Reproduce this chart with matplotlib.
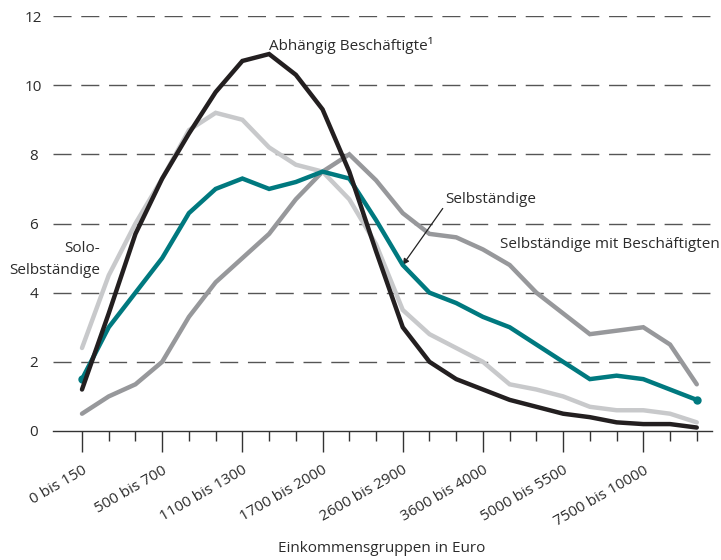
import numpy as np
import matplotlib
matplotlib.use('Agg')
import matplotlib.pyplot as plt

plt.rcParams['font.family'] = ['Open Sans', 'DejaVu Sans']

# income groups, only every third one is labelled
labels = ['0 bis 150', '', '', '500 bis 700', '', '', '1100 bis 1300', '', '',
          '1700 bis 2000', '', '', '2600 bis 2900', '', '', '3600 bis 4000', '', '',
          '5000 bis 5500', '', '', '7500 bis 10000', '', '']

abhaengig = [1.2, 3.4, 5.7, 7.3, 8.6, 9.8, 10.7, 10.9, 10.3, 9.3, 7.5, 5.2,
             3.0, 2.0, 1.5, 1.2, 0.9, 0.7, 0.5, 0.4, 0.25, 0.2, 0.2, 0.1]
solo = [2.4, 4.5, 6.0, 7.3, 8.7, 9.2, 9.0, 8.2, 7.7, 7.5, 6.7, 5.4,
        3.5, 2.8, 2.4, 2.0, 1.35, 1.2, 1.0, 0.7, 0.6, 0.6, 0.5, 0.25]
selbst = [1.5, 3.0, 4.0, 5.0, 6.3, 7.0, 7.3, 7.0, 7.2, 7.5, 7.3, 6.1,
          4.8, 4.0, 3.7, 3.3, 3.0, 2.5, 2.0, 1.5, 1.6, 1.5, 1.2, 0.9]
mit_besch = [0.5, 1.0, 1.35, 2.0, 3.3, 4.3, 5.0, 5.7, 6.7, 7.5, 8.0, 7.25,
             6.3, 5.7, 5.6, 5.25, 4.8, 4.0, 3.4, 2.8, 2.9, 3.0, 2.5, 1.35]

x = np.arange(len(labels))
txt = '#2b2b2b'
fs = 11

fig = plt.figure(figsize=(7.21, 5.60), dpi=100)
ax = fig.add_axes([53/721, 129/560, 659/721, 415/560])

for yy in range(2, 13, 2):
    ax.axhline(yy, color='#555555', lw=1, dashes=(13, 7), zorder=1)

lw = 3.2
ax.plot(x, mit_besch, color='#97989b', lw=lw, solid_capstyle='round', solid_joinstyle='miter', zorder=3)
ax.plot(x, solo, color='#c8c9cb', lw=lw, solid_capstyle='round', solid_joinstyle='miter', zorder=3)
ax.plot(x, selbst, color='#00797f', lw=lw, solid_capstyle='round', solid_joinstyle='miter', zorder=4)
ax.plot(x, abhaengig, color='#231f20', lw=lw, solid_capstyle='round', solid_joinstyle='miter', zorder=5)
ax.plot([x[0], x[-1]], [selbst[0], selbst[-1]], 'o', color='#00797f', ms=5, zorder=4)

ax.set_xlim(-1.085, 23.57)
ax.set_ylim(0, 12)

for s in ['top', 'right', 'left']:
    ax.spines[s].set_visible(False)
ax.spines['bottom'].set_color('#333333')
ax.spines['bottom'].set_linewidth(1)

ax.set_yticks(range(0, 13, 2))
ax.tick_params(axis='y', length=0, pad=14, labelsize=fs, labelcolor=txt)
for t in ax.get_yticklabels():
    t.set_horizontalalignment('center')

ax.set_xticks([i for i in x if i % 3 == 0], minor=False)
ax.set_xticks([i for i in x if i % 3 != 0], minor=True)
ax.set_xticklabels([labels[i] for i in x if i % 3 == 0], rotation=30,
                   ha='right', va='top', rotation_mode='anchor', fontsize=fs, color=txt)
ax.tick_params(axis='x', which='major', length=15, width=1, color='#333333', pad=8)
ax.tick_params(axis='x', which='minor', length=7, width=1, color='#333333')

fig.text(382/721, 1 - 548/560, 'Einkommensgruppen in Euro', fontsize=fs, color=txt,
         ha='center', va='center')

ax.text(7.0, 11.16, 'Abhängig Beschäftigte¹', fontsize=fs, color=txt,
        ha='left', va='center')
ax.text(0.67, 5.29, 'Solo-', fontsize=fs, color=txt, ha='right', va='center')
ax.text(0.67, 4.65, 'Selbständige', fontsize=fs, color=txt, ha='right', va='center')
ax.annotate('Selbständige', xy=(12.0, 4.8), xytext=(13.6, 6.7), fontsize=fs, color=txt,
            ha='left', va='center',
            arrowprops=dict(arrowstyle='-|>', color='#222222', lw=0.9,
                            mutation_scale=9, shrinkA=0, shrinkB=0,
                            relpos=(0, 0.15)))
ax.text(15.64, 5.4, 'Selbständige mit Beschäftigten', fontsize=fs, color=txt,
        ha='left', va='center')

fig.savefig('out.png', dpi=100)
